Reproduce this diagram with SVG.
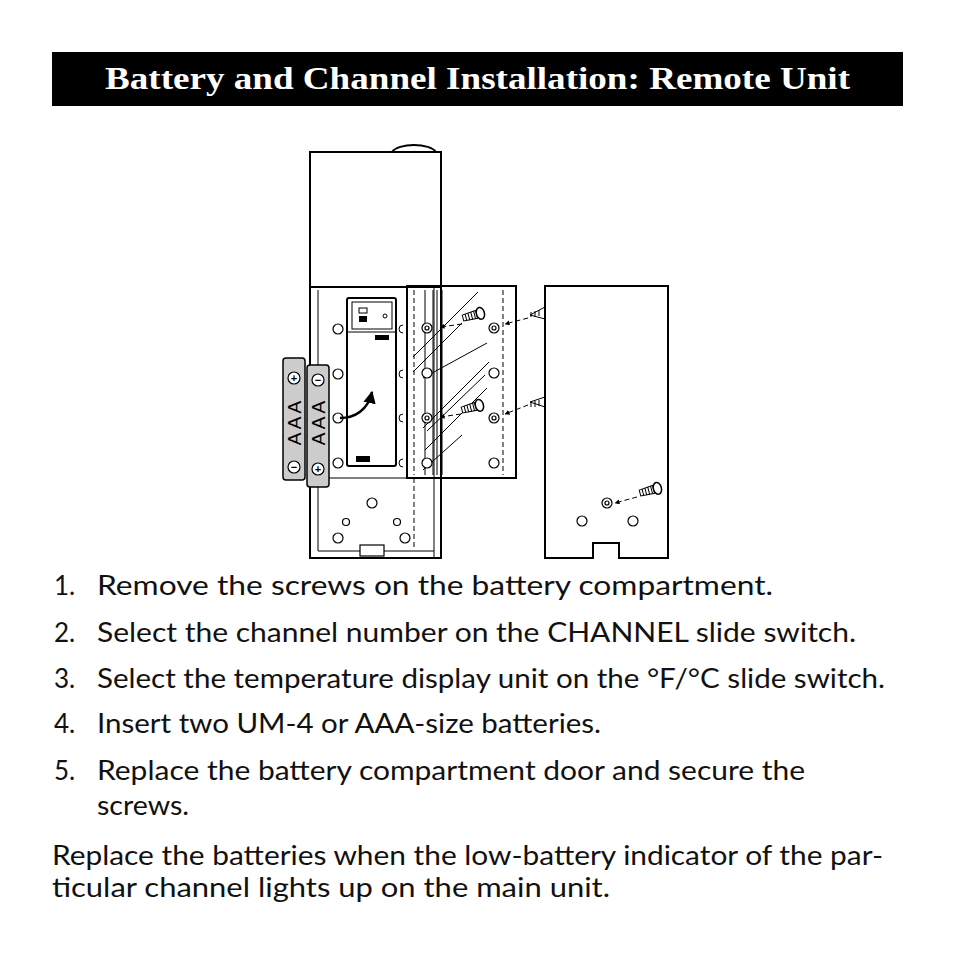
<svg xmlns="http://www.w3.org/2000/svg" width="954" height="954" viewBox="0 0 954 954">
<style>
.l{fill:none;stroke:#000;stroke-width:2}
.t{fill:none;stroke:#000;stroke-width:1}
.d{fill:none;stroke:#000;stroke-width:1;stroke-dasharray:5,3}
.h{fill:#fff;stroke:#000;stroke-width:1.2}
.tx{font-family:"Lato","Liberation Sans",sans-serif;font-size:26px;fill:#111}
</style>
<defs>
<marker id="ah" viewBox="0 0 10 10" refX="9" refY="5" markerWidth="5" markerHeight="5" orient="auto"><path d="M0,0L10,5L0,10z"/></marker>
<g id="scr"><path d="M0,-3L14,-4L14,4L0,3z" fill="#fff" stroke="#000"/><path d="M3,-3.5v7M6,-3.8v7.6M9,-4v8M12,-4v8" stroke="#000"/><ellipse cx="18" cy="0" rx="4" ry="6" fill="#fff" stroke="#000" stroke-width="1.5"/></g>
</defs>
<rect width="954" height="954" fill="#fff"/>
<rect x="52" y="52" width="851" height="54" fill="#000"/>
<text x="105" y="89" textLength="745" lengthAdjust="spacingAndGlyphs" font-family="Liberation Serif,serif" font-weight="bold" font-size="32" fill="#fff">Battery and Channel Installation: Remote Unit</text>
<g id="body">
<path class="l" d="M392,152A23,10 0 0 1 436,152"/>
<rect class="l" x="310" y="152" width="131" height="406"/>
<line class="l" x1="310" y1="287" x2="441" y2="287"/>
<line class="t" x1="434" y1="287" x2="434" y2="558"/>
<path class="t" d="M318,290V551H434"/>
<line class="t" x1="318" y1="478" x2="407" y2="478"/>
<rect x="360" y="545" width="24" height="11" class="h"/>
<rect class="l" x="347" y="298" width="49" height="168" rx="2"/>
<line class="t" x1="347" y1="332" x2="396" y2="332"/>
<rect x="352" y="302" width="40" height="27" class="t"/>
<rect x="359" y="308" width="8" height="5" class="t"/><rect x="359" y="316" width="8" height="6" fill="#000"/>
<circle cx="385" cy="316" r="2" class="t"/>
<rect x="375" y="335" width="14" height="5" fill="#000"/><rect x="356" y="456" width="14" height="6" fill="#000"/>
<g class="h"><circle cx="338" cy="329" r="5"/><circle cx="338" cy="374" r="5"/><circle cx="338" cy="418" r="5"/><circle cx="338" cy="463" r="5"/>
<circle cx="372" cy="503" r="5"/><circle cx="346" cy="522" r="3.5"/><circle cx="397" cy="522" r="3.5"/><circle cx="338" cy="538" r="5"/><circle cx="405" cy="538" r="5"/></g>
<path class="t" d="M403,325a4,4 0 0 0 0,8M403,370a4,4 0 0 0 0,8M403,414a4,4 0 0 0 0,8M403,459a4,4 0 0 0 0,8"/>
<path d="M340,418C355,418 368,410 372,392" fill="none" stroke="#000" stroke-width="2.5" marker-end="url(#ah)"/>
</g>
<g id="batteries">
<rect x="283" y="358" width="22" height="122" rx="3" fill="#ccc" stroke="#000" stroke-width="1.5"/>
<rect x="307" y="365" width="22" height="122" rx="3" fill="#ccc" stroke="#000" stroke-width="1.5"/>
<g class="h"><circle cx="294" cy="378" r="6"/><circle cx="294" cy="467" r="6"/><circle cx="318" cy="380" r="6"/><circle cx="318" cy="469" r="6"/></g>
<g font-family="Liberation Sans,sans-serif" font-weight="bold" font-size="11" text-anchor="middle">
<text x="294" y="382">+</text><text x="294" y="471">−</text><text x="318" y="384">−</text><text x="318" y="473">+</text></g>
<text transform="translate(301,423) rotate(-90)" text-anchor="middle" font-family="Liberation Sans,sans-serif" font-size="19">A A A</text>
<text transform="translate(325,423) rotate(-90)" text-anchor="middle" font-family="Liberation Sans,sans-serif" font-size="19">A A A</text>
</g>
<g id="door">
<line class="d" x1="414" y1="478" x2="414" y2="548"/>
<rect class="l" x="407" y="286" width="109" height="192" fill="#fff"/>
<line class="d" x1="414" y1="290" x2="414" y2="475"/>
<line class="d" x1="503" y1="290" x2="503" y2="475"/>
<g class="t"><line x1="425" y1="290" x2="425" y2="475"/><line x1="433" y1="290" x2="433" y2="475"/><line x1="437" y1="290" x2="437" y2="475"/><line x1="442" y1="290" x2="442" y2="475"/>
<line x1="413" y1="357" x2="478" y2="292"/><line x1="413" y1="372" x2="462" y2="323"/>
<line x1="423" y1="378" x2="487" y2="343"/><line x1="423" y1="428" x2="489" y2="362"/><line x1="427" y1="431" x2="485" y2="375"/>
<line x1="425" y1="450" x2="487" y2="388"/><line x1="423" y1="470" x2="462" y2="435"/></g>
<g class="h"><circle cx="427" cy="328" r="5"/><circle cx="427" cy="328" r="2"/><circle cx="494" cy="328" r="5"/><circle cx="494" cy="328" r="2"/>
<circle cx="427" cy="373" r="5"/><circle cx="494" cy="373" r="5"/>
<circle cx="427" cy="418" r="5"/><circle cx="427" cy="418" r="2"/><circle cx="494" cy="418" r="5"/><circle cx="494" cy="418" r="2"/>
<circle cx="427" cy="463" r="5"/><circle cx="494" cy="463" r="5"/></g>
<use href="#scr" transform="translate(463,318) rotate(-15)"/>
<use href="#scr" transform="translate(462,410) rotate(-15)"/>
</g>
<g id="cover">
<path class="l" d="M545,286H668V558H619V543H593V558H545Z" fill="#fff"/>
<g class="h"><circle cx="607" cy="503" r="5"/><circle cx="607" cy="503" r="2"/><circle cx="582" cy="521" r="5"/><circle cx="633" cy="521" r="5"/></g>
<use href="#scr" transform="translate(640,493) rotate(-15)"/>
<path d="M545,307L530,315L545,319M545,397L530,402L545,407" class="t"/>
<g class="t"><path d="M531,312v5M535,311v6M539,310v6M531,402v5M535,401v6M539,400v6"/></g>
</g>
<g id="connectors" class="d" marker-end="url(#ah)">
<line x1="462" y1="324" x2="440" y2="327"/>
<line x1="461" y1="414" x2="440" y2="417"/>
<line x1="528" y1="318" x2="505" y2="324"/>
<line x1="528" y1="405" x2="505" y2="414"/>
<line x1="637" y1="497" x2="615" y2="503"/>
</g>
<g class="tx">
<text x="54" y="595">1.</text><text x="97" y="595" textLength="676" lengthAdjust="spacingAndGlyphs">Remove the screws on the battery compartment.</text>
<text x="54" y="642">2.</text><text x="97" y="642" textLength="759" lengthAdjust="spacingAndGlyphs">Select the channel number on the CHANNEL slide switch.</text>
<text x="54" y="688">3.</text><text x="97" y="688" textLength="788" lengthAdjust="spacingAndGlyphs">Select the temperature display unit on the °F/°C slide switch.</text>
<text x="54" y="733">4.</text><text x="97" y="733" textLength="504" lengthAdjust="spacingAndGlyphs">Insert two UM-4 or AAA-size batteries.</text>
<text x="54" y="780">5.</text><text x="97" y="780" textLength="708" lengthAdjust="spacingAndGlyphs">Replace the battery compartment door and secure the</text>
<text x="97" y="815" textLength="92" lengthAdjust="spacingAndGlyphs">screws.</text>
<text x="52" y="865" textLength="831" lengthAdjust="spacingAndGlyphs">Replace the batteries when the low-battery indicator of the par-</text>
<text x="52" y="897" textLength="558" lengthAdjust="spacingAndGlyphs">ticular channel lights up on the main unit.</text>
</g>
</svg>
